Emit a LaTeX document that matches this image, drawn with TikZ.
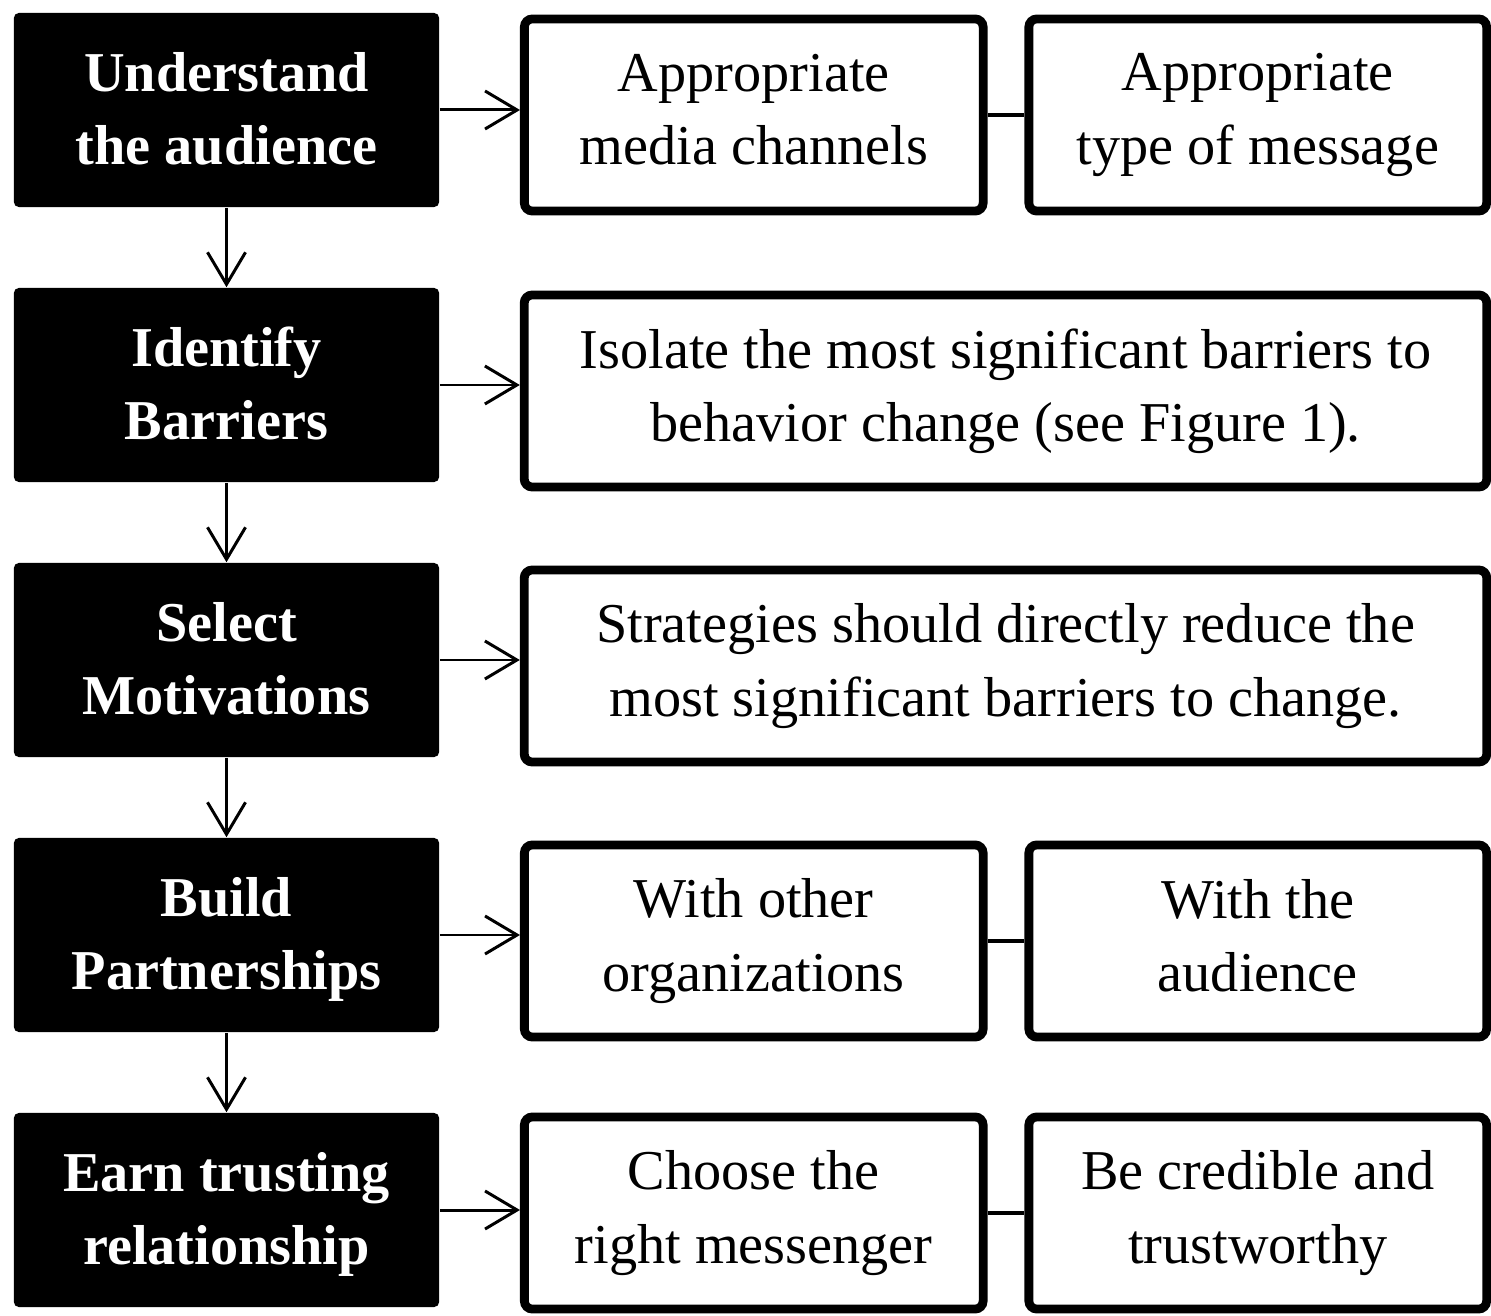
\documentclass[tikz,border=0pt]{standalone}
\usepackage{fontspec}
\setmainfont{Liberation Serif}
\usetikzlibrary{arrows.meta}

\tikzset{
	stepfont/.style={font=\fontsize{16}{20.8}\selectfont,
		execute at begin node={\rule{0pt}{14pt}}},
	blackbox/.style={stepfont, fill=black, text=white, align=center, inner sep=0pt,
		rounded corners=0.05cm, minimum width=4.25cm, minimum height=1.94cm,
		font=\fontsize{16}{20.8}\selectfont\bfseries, text depth=1pt},
	whitebox/.style={stepfont, draw=black, fill=white, line width=2.5pt, align=center,
		inner sep=0pt, rounded corners=0.08cm, minimum height=1.92cm,
		execute at end node={\rule[-3pt]{0pt}{3pt}}},
	flow/.style={line width=0.85pt, -{Straight Barb[length=3.2mm,width=3.8mm,line width=0.85pt]}},
	link/.style={line width=1.1pt}
}

\begin{document}
\begin{tikzpicture}[x=0.01cm, y=-0.01cm]
	\useasboundingbox (0,0) rectangle (1491,1316);

	% Etapas (coluna da esquerda)
	\node[blackbox] (audience)     at (226.5,110)  {Understand\\the audience};
	\node[blackbox] (barriers)     at (226.5,385)  {Identify\\Barriers};
	\node[blackbox] (motivations)  at (226.5,660)  {Select\\Motivations};
	\node[blackbox] (partnerships) at (226.5,935)  {Build\\Partnerships};
	\node[blackbox] (trust)        at (226.5,1210) {Earn trusting\\relationship};

	% Detalhes (coluna da direita)
	\node[whitebox, minimum width=4.585cm] (media)      at (753.75,115)  {Appropriate\\media channels};
	\node[whitebox, minimum width=4.575cm] (message)    at (1257.75,115) {Appropriate\\type of message};
	\node[whitebox, minimum width=9.62cm]  (isolate)    at (1005.5,391)  {Isolate the most significant barriers to\\behavior change (see Figure 1).};
	\node[whitebox, minimum width=9.62cm]  (strategies) at (1005.5,666)  {Strategies should directly reduce the\\most significant barriers to change.};
	\node[whitebox, minimum width=4.585cm] (others)     at (753.75,941)  {With other\\organizations};
	\node[whitebox, minimum width=4.575cm] (public)     at (1257.75,941) {With the\\audience};
	\node[whitebox, minimum width=4.585cm] (messenger)  at (753.75,1213) {Choose the\\right messenger};
	\node[whitebox, minimum width=4.575cm] (credible)   at (1257.75,1213) {Be credible and\\trustworthy};

	% Setas verticais
	\draw[flow] (audience) -- (barriers);
	\draw[flow] (barriers) -- (motivations);
	\draw[flow] (motivations) -- (partnerships);
	\draw[flow] (partnerships) -- (trust);

	% Setas horizontais
	\draw[flow] (audience.east) -- (audience.east -| media.west);
	\draw[flow] (barriers.east) -- (barriers.east -| isolate.west);
	\draw[flow] (motivations.east) -- (motivations.east -| strategies.west);
	\draw[flow] (partnerships.east) -- (partnerships.east -| others.west);
	\draw[flow] (trust.east) -- (trust.east -| messenger.west);

	% Ligações entre os pares
	\draw[link] (media) -- (message);
	\draw[link] (others) -- (public);
	\draw[link] (messenger) -- (credible);
\end{tikzpicture}
\end{document}
